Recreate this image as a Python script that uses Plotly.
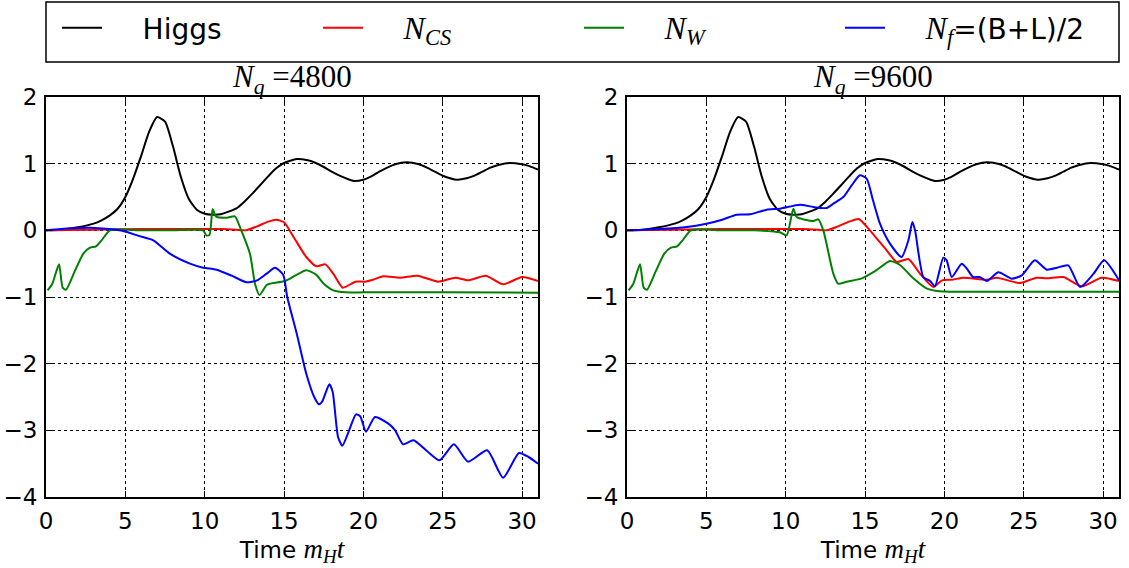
import plotly.graph_objects as go

# ---------------- data ----------------
higgs_t = [0, 1, 2, 3, 3.5, 4, 4.5, 5, 5.5, 6, 6.5, 7, 7.5, 8, 8.5, 9, 9.5, 10, 10.5, 11,
           11.5, 12, 12.5, 13, 13.5, 14, 14.5, 15, 15.8, 16.5, 17, 17.5, 18, 18.5, 19.4,
           20, 20.5, 21, 21.5, 22, 22.7, 23.5, 24, 24.5, 25.2, 25.9, 26.5, 27, 27.5, 28,
           28.5, 29.2, 30, 30.5, 31]
higgs_v = [0, 0.01, 0.045, 0.1, 0.15, 0.22, 0.32, 0.5, 0.78, 1.12, 1.48, 1.70, 1.63, 1.26,
           0.8, 0.47, 0.31, 0.25, 0.235, 0.24, 0.28, 0.33, 0.43, 0.55, 0.68, 0.81, 0.93,
           1.01, 1.07, 1.05, 1.01, 0.95, 0.88, 0.82, 0.74, 0.76, 0.81, 0.88, 0.94, 0.99,
           1.02, 0.99, 0.94, 0.88, 0.8, 0.76, 0.78, 0.82, 0.88, 0.94, 0.98, 1.01, 0.99,
           0.96, 0.91]

# N_q = 4800
ncs1_t = [0, 3, 6, 9, 11, 12, 12.6, 13.3, 14, 14.5, 15, 15.6, 16.4, 17.05, 17.6, 18.1, 18.7,
          19.5, 20.1, 20.6, 21.25, 22.3, 23.4, 24.7, 25.8, 26.6, 27.7, 28.8, 30.0, 31]
ncs1_v = [0, 0.01, 0.02, 0.02, 0.02, 0.01, 0.0, 0.06, 0.13, 0.16, 0.12, -0.1, -0.4, -0.54,
          -0.51, -0.65, -0.86, -0.77, -0.77, -0.74, -0.69, -0.71, -0.68, -0.77, -0.71, -0.75,
          -0.68, -0.81, -0.70, -0.76]

nw1_t = [0.1, 0.4, 0.82, 1.05, 1.26, 1.8, 2.35, 2.77, 3.15, 3.5, 4.03, 6, 8, 9.9, 10.1, 10.3,
         10.5, 10.7, 11.4, 11.9, 12.3, 12.85, 13.17, 13.45, 13.9, 14.1, 15.06, 15.7, 16.4,
         17.0, 17.5, 18.1, 18.9, 20, 25, 31]
nw1_v = [-0.9, -0.8, -0.51, -0.86, -0.89, -0.62, -0.35, -0.26, -0.24, -0.15, 0.0, 0.0, 0.0,
         0.0, -0.075, -0.07, 0.32, 0.21, 0.19, 0.21, 0.0, -0.35, -0.8, -0.97, -0.82, -0.8,
         -0.76, -0.68, -0.6, -0.66, -0.8, -0.9, -0.93, -0.93, -0.93, -0.935]

nf1_t = [0, 1.5, 2.77, 4.0, 4.87, 5.8, 6.76, 7.8, 9.07, 9.9, 10.75, 11.7, 12.65, 13.3, 13.9,
         14.43, 14.95, 15.2, 15.8, 16.4, 16.9, 17.2, 17.4, 17.85, 18.06, 18.4, 18.67, 19.1,
         19.53, 19.8, 20.16, 20.73, 21.57, 22.0, 22.5, 23.15, 24.0, 24.8, 25.7, 26.6, 27.8,
         28.8, 29.8, 30.4, 31]
nf1_v = [0, 0.03, 0.04, 0.02, -0.01, -0.08, -0.15, -0.35, -0.5, -0.56, -0.59, -0.68, -0.78,
         -0.75, -0.65, -0.56, -0.67, -1.0, -1.55, -2.15, -2.5, -2.61, -2.57, -2.31, -2.42,
         -3.1, -3.23, -3.0, -2.76, -2.79, -3.02, -2.8, -2.9, -3.0, -3.21, -3.15, -3.31,
         -3.45, -3.21, -3.47, -3.3, -3.71, -3.34, -3.4, -3.5]

# N_q = 9600
ncs2_t = [0, 3, 6, 9, 11, 12, 12.6, 13.3, 14, 14.6, 15.3, 16.36, 17.0, 17.73, 18.46, 19.3,
          19.85, 20.5, 21.2, 22.67, 23.3, 24.76, 25.8, 26.45, 27.5, 28.65, 29.9, 31]
ncs2_v = [0, 0.01, 0.02, 0.02, 0.02, 0.01, 0.0, 0.06, 0.13, 0.17, 0.0, -0.3, -0.475, -0.43,
          -0.65, -0.85, -0.75, -0.74, -0.71, -0.74, -0.71, -0.79, -0.71, -0.72, -0.7, -0.84,
          -0.71, -0.76]

nw2_t = [0.1, 0.4, 0.82, 1.05, 1.26, 1.8, 2.35, 2.77, 3.15, 3.5, 4.03, 6, 8, 9.64, 10.06,
         10.48, 10.69, 11.74, 12.05, 12.37, 13.0, 13.3, 13.84, 14.8, 15.7, 16.57, 17.2,
         18.04, 18.9, 19.7, 25, 31]
nw2_v = [-0.9, -0.8, -0.51, -0.86, -0.89, -0.62, -0.35, -0.26, -0.24, -0.15, 0.0, 0.0, 0.0,
         -0.03, -0.075, 0.325, 0.2, 0.14, 0.165, 0.0, -0.65, -0.8, -0.77, -0.72, -0.6,
         -0.46, -0.52, -0.72, -0.875, -0.915, -0.92, -0.92]

nf2_t = [0, 2, 3.76, 5.0, 6.0, 6.9, 7.75, 8.8, 9.64, 10.9, 11.74, 12.58, 13.0, 13.63, 14.2,
         14.68, 15.1, 15.5, 15.94, 16.57, 17.3, 17.73, 17.98, 18.15, 18.67, 19.1, 19.4,
         19.93, 20.14, 20.46, 21.09, 21.4, 21.8, 22.2, 22.67, 23.4, 24.24, 24.87, 25.7,
         26.45, 27.1, 27.8, 28.55, 29.4, 30.06, 31]
nf2_v = [0, 0.02, 0.05, 0.1, 0.16, 0.235, 0.24, 0.31, 0.325, 0.385, 0.35, 0.335, 0.4, 0.5,
         0.69, 0.825, 0.775, 0.45, 0.1, -0.2, -0.4, -0.15, 0.125, 0.0, -0.7, -0.76, -0.84,
         -0.41, -0.45, -0.7, -0.5, -0.57, -0.7, -0.7, -0.76, -0.63, -0.725, -0.675, -0.45,
         -0.59, -0.56, -0.525, -0.85, -0.65, -0.45, -0.75]

x_ticks = [0, 5, 10, 15, 20, 25, 30]
y_ticks = [-4, -3, -2, -1, 0, 1, 2]
SERIF = "Liberation Serif"
titles = ["<i>N</i><sub><i>q</i></sub> =4800", "<i>N</i><sub><i>q</i></sub> =9600"]
SP = f"<span style='font-family:{SERIF};font-size:32px'>"
names = [
    "Higgs",
    f"{SP}<i>N</i><sub><i>CS</i></sub></span>",
    f"{SP}<i>N</i><sub><i>W</i></sub></span>",
    f"{SP}<i>N</i><sub><i>f</i></sub></span>=(B+L)/2",
]
colors = ["#000000", "#ff0000", "#008000", "#0000ff"]

# ---------------- figure ----------------
fig = go.Figure()
NB = "\u00a0" * 4
panels = [
    ("x", "y", [(higgs_t, higgs_v), (ncs1_t, ncs1_v), (nw1_t, nw1_v), (nf1_t, nf1_v)], True),
    ("x2", "y2", [(higgs_t, higgs_v), (ncs2_t, ncs2_v), (nw2_t, nw2_v), (nf2_t, nf2_v)], False),
]
for xa, ya, series, show in panels:
    for (t, v), name, col in zip(series, names, colors):
        fig.add_trace(go.Scatter(
            x=t, y=v, mode="lines", name=NB + name, xaxis=xa, yaxis=ya,
            line=dict(color=col, width=2, shape="spline", smoothing=0.6),
            showlegend=show, legendgroup=name))

W, H = 1129, 568
ydom = [1 - 497 / H, 1 - 97 / H]
xdom1 = [46 / W, 538 / W]
xdom2 = [627 / W, 1119 / W]

axis_common = dict(
    showline=True, linecolor="black", linewidth=2, mirror="allticks",
    ticks="inside", ticklen=6, tickwidth=1, tickcolor="black",
    showgrid=True, gridcolor="black", gridwidth=1, griddash="dot",
    zeroline=False, tickfont=dict(family="DejaVu Sans", size=23, color="black"),
)
xtitle = dict(text=f"Time <span style='font-family:{SERIF};font-size:27px'><i>m</i><sub><i>H</i></sub><i>t</i></span>",
              font=dict(family="DejaVu Sans", size=23, color="black"), standoff=3)

fig.update_layout(
    width=W, height=H, margin=dict(l=0, r=0, t=0, b=0),
    paper_bgcolor="white", plot_bgcolor="white", template="none",
    xaxis=dict(domain=xdom1, range=[0, 31], tickvals=x_ticks, anchor="y",
               title=xtitle, ticklabelstandoff=2, **axis_common),
    yaxis=dict(domain=ydom, range=[-4, 2], tickvals=y_ticks, anchor="x",
               ticklabelstandoff=2, **axis_common),
    xaxis2=dict(domain=xdom2, range=[0, 31], tickvals=x_ticks, anchor="y2",
                title=xtitle, ticklabelstandoff=2, **axis_common),
    yaxis2=dict(domain=ydom, range=[-4, 2], tickvals=y_ticks, anchor="x2",
                ticklabelstandoff=2, **axis_common),
    legend=dict(orientation="h", x=57 / W, y=1 - 3 / H, xanchor="left", yanchor="top",
                borderwidth=0, bgcolor="rgba(0,0,0,0)",
                font=dict(family="DejaVu Sans", size=28, color="black"),
                entrywidth=206, entrywidthmode="pixels", itemwidth=40,
                traceorder="normal"),
    showlegend=True,
    shapes=[dict(type="rect", xref="paper", yref="paper",
                 x0=46 / W, x1=1119 / W, y0=1 - 62 / H, y1=1 - 2 / H,
                 line=dict(color="black", width=1.5), fillcolor="rgba(0,0,0,0)", layer="above")],
)
for dom, txt in zip([xdom1, xdom2], titles):
    fig.add_annotation(text=txt, xref="paper", yref="paper", x=(dom[0] + dom[1]) / 2,
                       y=1 - 79 / H, xanchor="center", yanchor="middle", showarrow=False,
                       font=dict(family=SERIF, size=31, color="black"))

fig.write_html("out.html")
